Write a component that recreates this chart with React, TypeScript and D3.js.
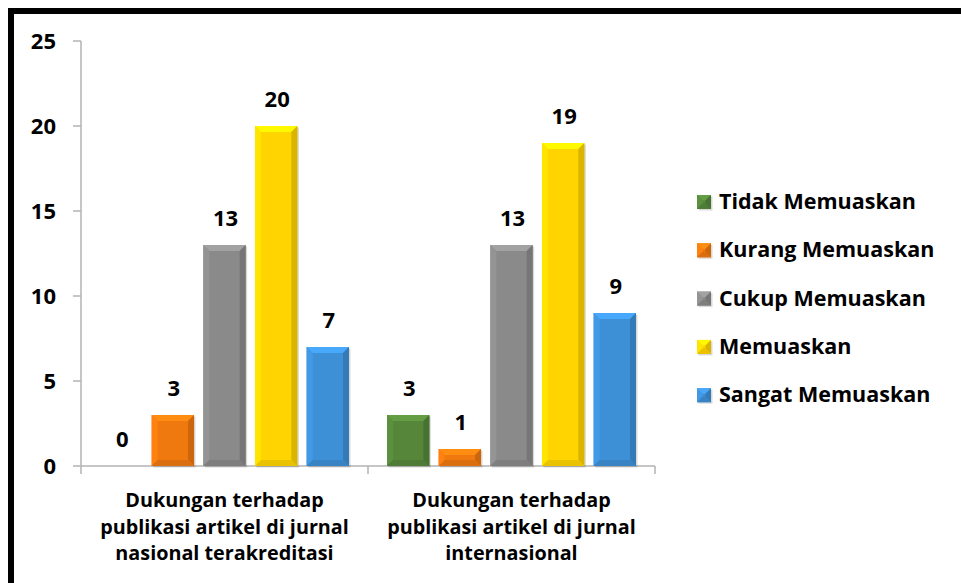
import React from "react";
import * as d3 from "d3";

const categories = [
  ["Dukungan terhadap", "publikasi artikel di jurnal", "nasional terakreditasi"],
  ["Dukungan terhadap", "publikasi artikel di jurnal", "internasional"],
];
const seriesNames = ["Tidak Memuaskan", "Kurang Memuaskan", "Cukup Memuaskan", "Memuaskan", "Sangat Memuaskan"];
const seriesValues = [
  [0, 3],
  [3, 1],
  [13, 13],
  [20, 19],
  [7, 9],
];
const seriesColors = ["#55863a", "#ef780f", "#8a8a8a", "#ffd400", "#3d8fd6"];
const yTicks = [0, 5, 10, 15, 20, 25];

const FONT = "'Open Sans', Lato, sans-serif";

function Bar({ x, y, w, h, color }: { x: number; y: number; w: number; h: number; color: string }) {
  if (h <= 0) return null;
  const b = Math.min(6, h / 2.5);
  const c = d3.color(color)!;
  const light = d3.color(color)!.brighter(0.45).toString();
  const lighter = d3.color(color)!.brighter(0.2).toString();
  const dark = d3.color(color)!.darker(0.45).toString();
  const darker = d3.color(color)!.darker(0.25).toString();
  return (
    <g>
      <rect x={x + 1.5} y={y + 1.5} width={w} height={h} fill="rgba(0,0,0,0.15)" />
      <rect x={x} y={y} width={w} height={h} fill={c.toString()} />
      <polygon points={`${x},${y} ${x + w},${y} ${x + w - b},${y + b} ${x + b},${y + b}`} fill={light} />
      <polygon points={`${x},${y} ${x + b},${y + b} ${x + b},${y + h - b} ${x},${y + h}`} fill={lighter} />
      <polygon points={`${x + w},${y} ${x + w},${y + h} ${x + w - b},${y + h - b} ${x + w - b},${y + b}`} fill={dark} />
      <polygon points={`${x},${y + h} ${x + b},${y + h - b} ${x + w - b},${y + h - b} ${x + w},${y + h}`} fill={darker} />
    </g>
  );
}

export default function App() {
  const W = 961, H = 583;
  const x0 = 81, x1 = 655, yBase = 466, yTop = 41;
  const y = d3.scaleLinear().domain([0, 25]).range([yBase, yTop]);
  const xc = d3.scaleBand<number>().domain(categories.map((_, i) => i)).range([x0, x1]).padding(0);
  const bw = xc.bandwidth();
  const xs = d3.scaleBand<number>().domain(seriesNames.map((_, i) => i)).range([19, bw - 19]).paddingInner(0.18);

  return (
    <svg width={W} height={H} style={{ position: "absolute", left: 0, top: 0 }} fontFamily={FONT}>
      <rect x={0} y={0} width={W} height={H} fill="#fff" />
      <rect x={11} y={11} width={W + 20} height={H + 20} fill="none" stroke="#000" strokeWidth={6} />
      {/* y axis */}
      <line x1={x0} x2={x0} y1={yTop} y2={yBase} stroke="#b3b3b3" strokeWidth={1.5} />
      {yTicks.map((t) => (
        <g key={t}>
          <line x1={x0 - 8} x2={x0} y1={y(t)} y2={y(t)} stroke="#b3b3b3" strokeWidth={1.5} />
          <text x={56} y={y(t) + 8} textAnchor="end" fontSize={22} fontWeight={700} fill="#000">{t}</text>
        </g>
      ))}
      {/* x axis */}
      <line x1={x0} x2={x1} y1={yBase} y2={yBase} stroke="#b3b3b3" strokeWidth={1.5} />
      {[0, 1, 2].map((i) => {
        const xx = x0 + i * bw;
        return <line key={i} x1={xx} x2={xx} y1={yBase} y2={yBase + 8} stroke="#b3b3b3" strokeWidth={1.5} />;
      })}
      {/* bars */}
      {categories.map((_, ci) =>
        seriesNames.map((_, si) => {
          const v = seriesValues[si][ci];
          const bx = (xc(ci) as number) + (xs(si) as number);
          const w = xs.bandwidth();
          return (
            <g key={`${ci}-${si}`}>
              <Bar x={bx} y={y(v)} w={w} h={yBase - y(v)} color={seriesColors[si]} />
              <text x={bx + w / 2 + 1} y={y(v) - 19} textAnchor="middle" fontSize={22} fontWeight={700} fill="#000">{v}</text>
            </g>
          );
        })
      )}
      {/* category labels */}
      {categories.map((lines, ci) => (
        <text key={ci} textAnchor="middle" fontSize={19.8} fontWeight={700} fill="#000">
          {lines.map((l, li) => (
            <tspan key={li} x={(xc(ci) as number) + bw / 2} y={507 + li * 26.5}>{l}</tspan>
          ))}
        </text>
      ))}
      {/* legend */}
      {seriesNames.map((n, i) => {
        const cy = 202 + i * 48.3;
        return (
          <g key={n}>
            <Bar x={697} y={cy - 7} w={14} h={14} color={seriesColors[i]} />
            <text x={719} y={cy + 7} fontSize={21.5} fontWeight={700} fill="#000">{n}</text>
          </g>
        );
      })}
    </svg>
  );
}
